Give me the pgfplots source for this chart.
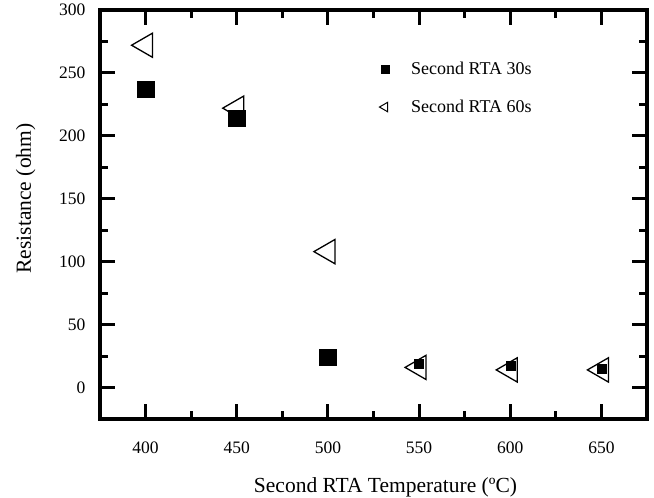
\documentclass[border=0pt]{standalone}
\usepackage{pgfplots}
\pgfplotsset{compat=1.18}
\usepackage{fontspec}
\setmainfont{Liberation Serif}
\begin{document}
\begin{tikzpicture}
\begin{axis}[
  scale only axis,
  width=547pt, height=409pt,
  at={(0,0)}, anchor=south west,
  xmin=375, xmax=675,
  ymin=-25, ymax=300,
  xtick={400,450,...,650},
  ytick={0,50,...,300},
  minor x tick num=1,
  minor y tick num=1,
  tick align=inside,
  major tick length=15pt,
  minor tick length=8pt,
  every tick/.style={line width=3pt, black},
  axis line style={line width=3.5pt},
  /pgf/number format/assume math mode=true,
  ticklabel style={font=\fontsize{17.5}{17.5}\selectfont},
  xticklabel style={yshift=-19pt},
  yticklabel style={xshift=-11pt},
  xlabel={Second RTA Temperature (ºC)},
  ylabel={Resistance (ohm)},
  label style={font=\fontsize{21.5}{21.5}\selectfont},
  xlabel style={yshift=-17pt, xshift=12pt},
  ylabel style={yshift=17pt, xshift=16pt},
  legend style={draw=none, fill=none, at={(0.4995,0.883)}, anchor=north west,
    font=\fontsize{18}{18}\selectfont, row sep=20pt},
  legend cell align=left,
  legend image code/.code={\draw[#1] plot coordinates {(0.3cm,0cm)}; \path[draw=none] (0cm,0cm) (1.15cm,0cm);},
]
\addplot[only marks, mark=square*, mark size=8.3pt, black,
  legend image post style={mark size=4pt}]
  coordinates {(400,237) (450,214) (500,24)};
\addlegendentry{Second RTA 30s}
\addplot[only marks, mark=triangle, mark size=14pt, black, line width=1.3pt,
  mark options={rotate=90, fill=white},
  legend image post style={mark size=5.5pt, line width=1pt}]
  coordinates {(400,272) (450,222) (500,108) (550,16) (600,14) (650,14)};
\addlegendentry{Second RTA 60s}
\addplot[only marks, mark=square*, mark size=4.5pt, black, forget plot]
  coordinates {(550,19) (600,17) (650,15)};
\end{axis}
\pgfresetboundingbox
\path (-100pt,-79pt) rectangle (554pt,419pt);
\end{tikzpicture}
\end{document}
